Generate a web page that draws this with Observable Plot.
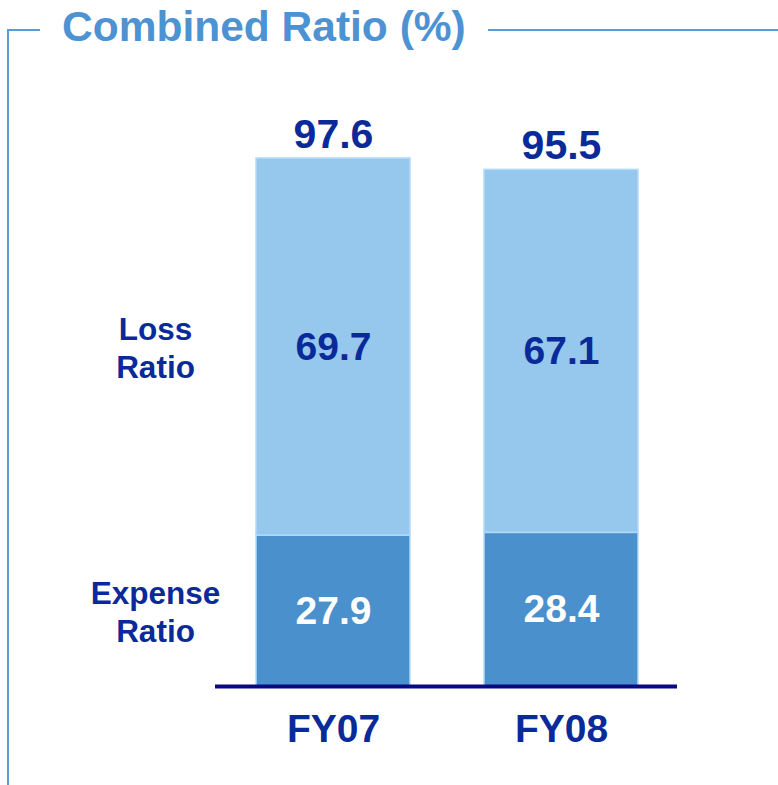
<!DOCTYPE html>
<html>
<head>
<meta charset="utf-8">
<script src="https://cdn.jsdelivr.net/npm/d3@7"></script>
<script src="https://cdn.jsdelivr.net/npm/@observablehq/plot@0.6"></script>
<style>
  html, body { margin: 0; padding: 0; background: white; }
  #wrap { position: relative; width: 778px; height: 785px; overflow: hidden; font-family: "Liberation Sans", Arial, sans-serif; }
  #chart { position: absolute; left: 0; top: 0; }
  #frame { position: absolute; left: 7px; top: 29px; width: 780px; height: 800px; border-left: 2px solid #5b9bd5; border-top: 2px solid #5b9bd5; pointer-events: none; }
  #title { position: absolute; left: 40px; top: 4px; padding: 0 22px; background: white; color: #4d92d2; font-weight: bold; font-size: 42.5px; line-height: 46px; letter-spacing: 0px; white-space: nowrap; }
</style>
</head>
<body>
<div id="wrap">
  <div id="chart"></div>
  <div id="frame"></div>
  <div id="title">Combined Ratio (%)</div>
</div>
<script>
const categories = ["FY07", "FY08"];
const expenseRatio = [27.9, 28.4];
const lossRatio = [69.7, 67.1];
const combinedRatio = [97.6, 95.5];
const seriesNames = ["Expense Ratio", "Loss Ratio"];
const seriesLabels = ["Expense\nRatio", "Loss\nRatio"];

const navy = "#0b2a9a";
const rows = categories.flatMap((c, i) => [
  {year: c, series: seriesNames[0], label: seriesLabels[0], value: expenseRatio[i]},
  {year: c, series: seriesNames[1], label: seriesLabels[1], value: lossRatio[i]}
]);
const totals = categories.map((c, i) => ({year: c, value: combinedRatio[i]}));

const chart = Plot.plot({
  width: 778,
  height: 785,
  marginLeft: 215,
  marginRight: 101,
  marginTop: 158,
  marginBottom: 99,
  style: {fontFamily: "Liberation Sans, Arial, sans-serif", background: "transparent"},
  x: {domain: categories, range: [255, 639], paddingInner: 0.323, paddingOuter: 0, axis: null},
  y: {domain: [0, d3.max(combinedRatio)], axis: null},
  color: {domain: seriesNames, range: ["#4a90cd", "#95c8ec"]},
  marks: [
    Plot.barY(rows, {x: "year", y: "value", fill: "series", stroke: "#b2dafa", strokeWidth: 1.5}),
    Plot.ruleY([0], {stroke: "#080a7e", strokeWidth: 4}),
    Plot.text(rows, Plot.stackY({
      x: "year", y: "value",
      text: d => d.value.toFixed(1),
      fill: d => d.series === seriesNames[0] ? "white" : navy,
      fontSize: 39, fontWeight: "bold"
    })),
    Plot.text(rows.filter(d => d.year === categories[0]), Plot.stackY({
      x: "year", y: "value",
      text: "label",
      dx: -178,
      fill: navy, fontSize: 31.5, fontWeight: "bold", lineHeight: 1.2
    })),
    Plot.text(totals, {
      x: "year", y: "value", text: d => d.value.toFixed(1),
      dy: -24, fill: navy, fontSize: 41, fontWeight: "bold"
    }),
    Plot.axisX({
      tickSize: 0, tickPadding: 28, fontSize: 39, fontWeight: "bold",
      fill: navy, color: "#080a7e", label: null
    })
  ]
});
document.getElementById("chart").appendChild(chart);
</script>
</body>
</html>
